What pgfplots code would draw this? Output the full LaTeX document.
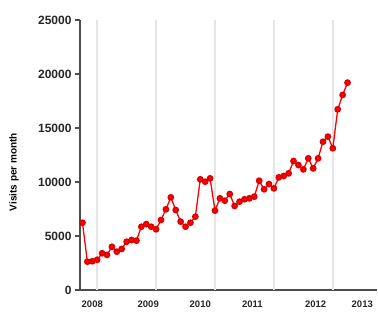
\documentclass[border=0pt]{standalone}
\usepackage{pgfplots}
\pgfplotsset{compat=1.18}
\usepackage{fontspec}
\setmainfont{Liberation Sans}
\begin{document}
\begin{tikzpicture}[x=1pt,y=1pt]
\useasboundingbox (0,0) rectangle (378,312);
\begin{axis}[
  at={(80pt,22pt)}, anchor=south west,
  scale only axis, width=297pt, height=270pt,
  xmin=-3.5, xmax=57, ymin=0, ymax=25000,
  axis x line=bottom, axis y line=left,
  axis line style={-, line width=1.6pt, draw=black!70},
  ytick={0,5000,10000,15000,20000,25000},
  scaled y ticks=false,
  /pgf/number format/1000 sep={},
  /pgf/number format/assume math mode=true,
  yticklabel style={font=\fontsize{12}{13}\selectfont\bfseries, text=black!85},
  xticklabel style={font=\fontsize{9.5}{11}\selectfont\bfseries, text=black!85, yshift=-2pt},
  y tick style={line width=1.2pt, draw=black!70},
  tick align=outside, major tick length=5pt,
  xtick={-1,10.4,21,31.6,44.5,54},
  xticklabels={2008,2009,2010,2011,2012,2013},
  x tick style={draw=none},
  extra x ticks={0,12,24,36,48},
  extra x tick labels={},
  extra x tick style={grid=major, major grid style={draw=black!10, line width=1.4pt}, tick style={draw=none}},
  ylabel={\bfseries Visits per month},
  ylabel style={font=\fontsize{12}{13}\selectfont, text=black!80},
  every axis y label/.style={at={(axis description cs:-0.222,0.437)}, rotate=90, anchor=center},
  clip=false,
]
\addplot[red, line width=1.3pt, mark=*, mark size=2.7pt, mark options={fill=red, draw=red!85!black}] coordinates {
(-3,6230) (-2,2620) (-1,2660) (0,2800) (1,3400) (2,3250) (3,4000) (4,3550) (5,3800)
(6,4470) (7,4630) (8,4570) (9,5860) (10,6100) (11,5860) (12,5620) (13,6480) (14,7470)
(15,8580) (16,7410) (17,6330) (18,5860) (19,6230) (20,6790) (21,10250) (22,10030) (23,10340)
(24,7350) (25,8490) (26,8270) (27,8890) (28,7780) (29,8180) (30,8400) (31,8490) (32,8640)
(33,10120) (34,9320) (35,9810) (36,9410) (37,10430) (38,10560) (39,10800) (40,11940) (41,11570)
(42,11170) (43,12190) (44,11260) (45,12190) (46,13730) (47,14200) (48,13120) (49,16730) (50,18060) (51,19200)
};
\end{axis}
\end{tikzpicture}
\end{document}
